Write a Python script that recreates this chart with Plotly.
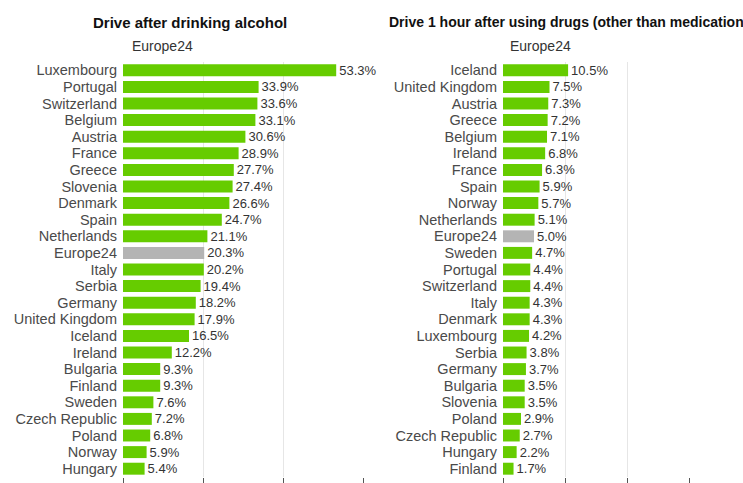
import plotly.graph_objects as go

left_countries = ["Luxembourg", "Portugal", "Switzerland", "Belgium", "Austria", "France",
                  "Greece", "Slovenia", "Denmark", "Spain", "Netherlands", "Europe24",
                  "Italy", "Serbia", "Germany", "United Kingdom", "Iceland", "Ireland",
                  "Bulgaria", "Finland", "Sweden", "Czech Republic", "Poland", "Norway", "Hungary"]
left_values = [53.3, 33.9, 33.6, 33.1, 30.6, 28.9, 27.7, 27.4, 26.6, 24.7, 21.1, 20.3,
               20.2, 19.4, 18.2, 17.9, 16.5, 12.2, 9.3, 9.3, 7.6, 7.2, 6.8, 5.9, 5.4]

right_countries = ["Iceland", "United Kingdom", "Austria", "Greece", "Belgium", "Ireland",
                   "France", "Spain", "Norway", "Netherlands", "Europe24", "Sweden",
                   "Portugal", "Switzerland", "Italy", "Denmark", "Luxembourg", "Serbia",
                   "Germany", "Bulgaria", "Slovenia", "Poland", "Czech Republic", "Hungary", "Finland"]
right_values = [10.5, 7.5, 7.3, 7.2, 7.1, 6.8, 6.3, 5.9, 5.7, 5.1, 5.0, 4.7,
                4.4, 4.4, 4.3, 4.3, 4.2, 3.8, 3.7, 3.5, 3.5, 2.9, 2.7, 2.2, 1.7]

left_ticks = [0, 20, 40, 60]
right_ticks = [0, 10, 20, 30]

GREEN = "#66cc00"
GREY = "#b4b4b4"
FONT = "Liberation Sans, Arial, sans-serif"

W, H = 743, 483


def colors(names):
    return [GREY if n == "Europe24" else GREEN for n in names]


fig = go.Figure()
fig.add_trace(go.Bar(
    x=left_values, y=left_countries, orientation="h",
    marker=dict(color=colors(left_countries), line=dict(width=0)),
    text=[f"{v:.1f}%" for v in left_values], textposition="outside",
    textfont=dict(family=FONT, size=13, color="#333333"),
    cliponaxis=False, constraintext="none",
    xaxis="x", yaxis="y", hoverinfo="skip"))
fig.add_trace(go.Bar(
    x=right_values, y=right_countries, orientation="h",
    marker=dict(color=colors(right_countries), line=dict(width=0)),
    text=[f"{v:.1f}%" for v in right_values], textposition="outside",
    textfont=dict(family=FONT, size=13, color="#333333"),
    cliponaxis=False, constraintext="none",
    xaxis="x2", yaxis="y2", hoverinfo="skip"))

ydom = [1 - 477 / H, 1 - 62 / H]
xaxis_common = dict(showgrid=True, gridcolor="#e6e6e6", gridwidth=1, zeroline=False,
                    showticklabels=False, ticks="outside", ticklen=6, tickcolor="#555555",
                    showline=False, automargin=False)
yaxis_common = dict(autorange="reversed", ticks="", showgrid=False, showline=False,
                    tickfont=dict(family=FONT, size=14.5, color="#4a4a4a"),
                    ticklabelstandoff=5, tickmode="array", automargin=False)

fig.update_layout(
    width=W, height=H,
    margin=dict(l=0, r=0, t=0, b=0),
    paper_bgcolor="white", plot_bgcolor="white",
    showlegend=False, bargap=0.28,
    xaxis=dict(domain=[123 / W, 363 / W], range=[0, 60], tickvals=left_ticks, anchor="y", **xaxis_common),
    yaxis=dict(domain=ydom, anchor="x", categoryorder="array", categoryarray=left_countries,
               tickvals=left_countries, ticktext=left_countries, **yaxis_common),
    xaxis2=dict(domain=[503 / W, 689 / W], range=[0, 30], tickvals=right_ticks, anchor="y2", **xaxis_common),
    yaxis2=dict(domain=ydom, anchor="x2", categoryorder="array", categoryarray=right_countries,
                tickvals=right_countries, ticktext=right_countries, **yaxis_common),
    annotations=[
        dict(text="<b>Drive after drinking alcohol</b>", x=190 / W, y=1 - 22 / H,
             xref="paper", yref="paper", xanchor="center", yanchor="middle", showarrow=False,
             font=dict(family=FONT, size=15, color="#111111")),
        dict(text="Europe24", x=130 / W, y=1 - 46 / H, xref="paper", yref="paper",
             xanchor="left", yanchor="middle", showarrow=False,
             font=dict(family=FONT, size=14, color="#333333")),
        dict(text="<b>Drive 1 hour after using drugs (other than medication)</b>", x=387 / W, y=1 - 22 / H,
             xref="paper", yref="paper", xanchor="left", yanchor="middle", showarrow=False,
             font=dict(family=FONT, size=14, color="#111111")),
        dict(text="Europe24", x=508 / W, y=1 - 46 / H, xref="paper", yref="paper",
             xanchor="left", yanchor="middle", showarrow=False,
             font=dict(family=FONT, size=14, color="#333333")),
    ],
)

fig.write_html("out.html", config={"displayModeBar": False},
               post_script="document.body.style.margin='0px';")
